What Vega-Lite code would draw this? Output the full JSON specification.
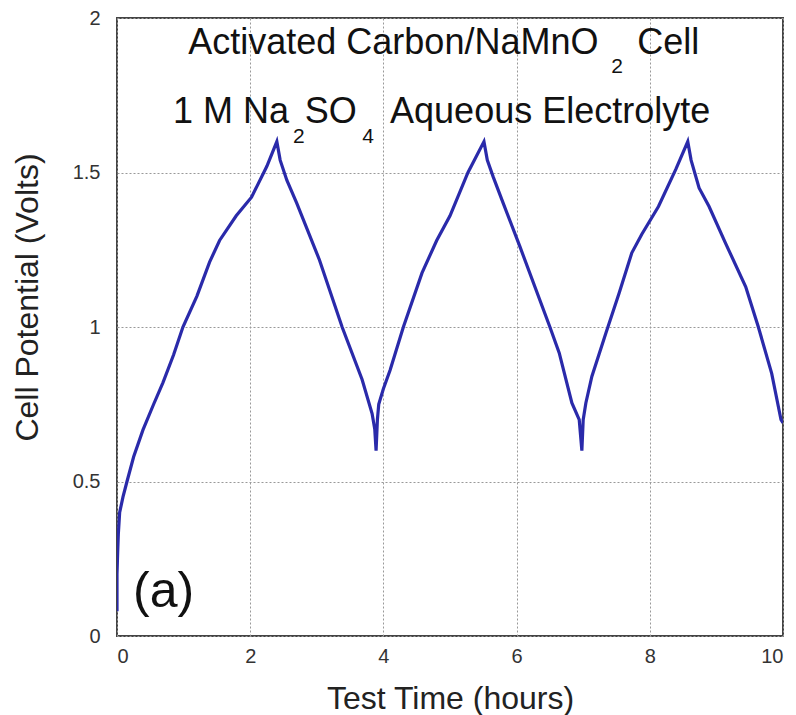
{
  "$schema": "https://vega.github.io/schema/vega-lite/v6.json",
  "width": 666,
  "height": 618,
  "autosize": {"type": "none"},
  "padding": {"left": 117, "top": 18, "right": 13, "bottom": 79},
  "background": "white",
  "config": {
    "view": {"stroke": "#444", "strokeWidth": 2},
    "font": "Liberation Sans"
  },
  "datasets": {
    "curve": [
      {"t": 0.0, "v": 0.08}, {"t": 0.0, "v": 0.2}, {"t": 0.01, "v": 0.27}, {"t": 0.02, "v": 0.33},
      {"t": 0.04, "v": 0.4}, {"t": 0.09, "v": 0.45}, {"t": 0.15, "v": 0.5}, {"t": 0.25, "v": 0.58},
      {"t": 0.39, "v": 0.667}, {"t": 0.55, "v": 0.75}, {"t": 0.69, "v": 0.82}, {"t": 0.85, "v": 0.91},
      {"t": 0.99, "v": 1.0}, {"t": 1.2, "v": 1.1}, {"t": 1.39, "v": 1.21}, {"t": 1.54, "v": 1.28},
      {"t": 1.79, "v": 1.36}, {"t": 2.02, "v": 1.42}, {"t": 2.25, "v": 1.52}, {"t": 2.4, "v": 1.6},
      {"t": 2.45, "v": 1.54}, {"t": 2.55, "v": 1.475}, {"t": 2.7, "v": 1.4}, {"t": 3.04, "v": 1.217},
      {"t": 3.38, "v": 1.0}, {"t": 3.68, "v": 0.83}, {"t": 3.83, "v": 0.72}, {"t": 3.87, "v": 0.67},
      {"t": 3.89, "v": 0.6}, {"t": 3.91, "v": 0.7}, {"t": 3.93, "v": 0.75}, {"t": 4.0, "v": 0.8},
      {"t": 4.1, "v": 0.86}, {"t": 4.3, "v": 1.0}, {"t": 4.58, "v": 1.175}, {"t": 4.8, "v": 1.28},
      {"t": 5.0, "v": 1.36}, {"t": 5.27, "v": 1.5}, {"t": 5.51, "v": 1.6}, {"t": 5.56, "v": 1.54},
      {"t": 5.65, "v": 1.485}, {"t": 5.8, "v": 1.4}, {"t": 6.05, "v": 1.26}, {"t": 6.5, "v": 1.0},
      {"t": 6.64, "v": 0.916}, {"t": 6.83, "v": 0.754}, {"t": 6.94, "v": 0.7}, {"t": 6.98, "v": 0.6},
      {"t": 7.0, "v": 0.7}, {"t": 7.04, "v": 0.754}, {"t": 7.13, "v": 0.84}, {"t": 7.34, "v": 0.98},
      {"t": 7.54, "v": 1.11}, {"t": 7.73, "v": 1.24}, {"t": 7.88, "v": 1.3}, {"t": 8.13, "v": 1.39},
      {"t": 8.39, "v": 1.51}, {"t": 8.57, "v": 1.6}, {"t": 8.62, "v": 1.54}, {"t": 8.74, "v": 1.45},
      {"t": 8.89, "v": 1.39}, {"t": 9.14, "v": 1.27}, {"t": 9.44, "v": 1.13}, {"t": 9.63, "v": 1.0},
      {"t": 9.83, "v": 0.85}, {"t": 9.97, "v": 0.7}, {"t": 10.0, "v": 0.69}
    ],
    "labels": [
      {"t": 1.07, "v": 1.883, "label": "Activated  Carbon/NaMnO"},
      {"t": 7.81, "v": 1.883, "label": "Cell"},
      {"t": 0.84, "v": 1.66, "label": "1 M Na"},
      {"t": 2.82, "v": 1.66, "label": "SO"},
      {"t": 4.1, "v": 1.66, "label": "Aqueous  Electrolyte"}
    ],
    "subs": [
      {"t": 7.51, "v": 1.822, "label": "2"},
      {"t": 2.73, "v": 1.595, "label": "2"},
      {"t": 3.77, "v": 1.595, "label": "4"}
    ],
    "panel": [
      {"t": 0.24, "v": 0.094, "label": "(a)"}
    ]
  },
  "layer": [
    {
      "data": {"name": "curve"},
      "mark": {"type": "line", "color": "#2a2aaa", "strokeWidth": 3.2, "clip": true},
      "encoding": {
        "x": {
          "field": "t", "type": "quantitative",
          "scale": {"domain": [0, 10], "nice": false},
          "axis": {
            "title": "Test Time (hours)", "values": [0, 2, 4, 6, 8, 10], "format": "d",
            "grid": true, "gridColor": "#999", "gridDash": [2, 2], "gridWidth": 1,
            "ticks": false, "domain": false,
            "labelFontSize": 20, "labelColor": "#333", "labelPadding": 10,
            "titleFontSize": 32, "titleFontWeight": "normal", "titleColor": "#222",
            "titleY": 72, "titleBaseline": "alphabetic"
          }
        },
        "y": {
          "field": "v", "type": "quantitative",
          "scale": {"domain": [0, 2], "nice": false},
          "axis": {
            "title": "Cell Potential (Volts)", "values": [0, 0.5, 1, 1.5, 2], "format": "~g",
            "grid": true, "gridColor": "#999", "gridDash": [2, 2], "gridWidth": 1,
            "ticks": false, "domain": false,
            "labelFontSize": 20, "labelColor": "#333", "labelPadding": 17,
            "titleFontSize": 32, "titleFontWeight": "normal", "titleColor": "#222",
            "titleX": -80, "titleY": 279, "titleAlign": "center", "titleBaseline": "alphabetic"
          }
        },
        "order": {"field": "t", "type": "quantitative"}
      }
    },
    {
      "data": {"name": "labels"},
      "mark": {"type": "text", "align": "left", "baseline": "alphabetic", "fontSize": 36, "color": "#111"},
      "encoding": {
        "x": {"field": "t", "type": "quantitative"},
        "y": {"field": "v", "type": "quantitative"},
        "text": {"field": "label"}
      }
    },
    {
      "data": {"name": "subs"},
      "mark": {"type": "text", "align": "center", "baseline": "alphabetic", "fontSize": 21, "color": "#111"},
      "encoding": {
        "x": {"field": "t", "type": "quantitative"},
        "y": {"field": "v", "type": "quantitative"},
        "text": {"field": "label"}
      }
    },
    {
      "data": {"name": "panel"},
      "mark": {"type": "text", "align": "left", "baseline": "alphabetic", "fontSize": 50, "color": "#111"},
      "encoding": {
        "x": {"field": "t", "type": "quantitative"},
        "y": {"field": "v", "type": "quantitative"},
        "text": {"field": "label"}
      }
    }
  ]
}
